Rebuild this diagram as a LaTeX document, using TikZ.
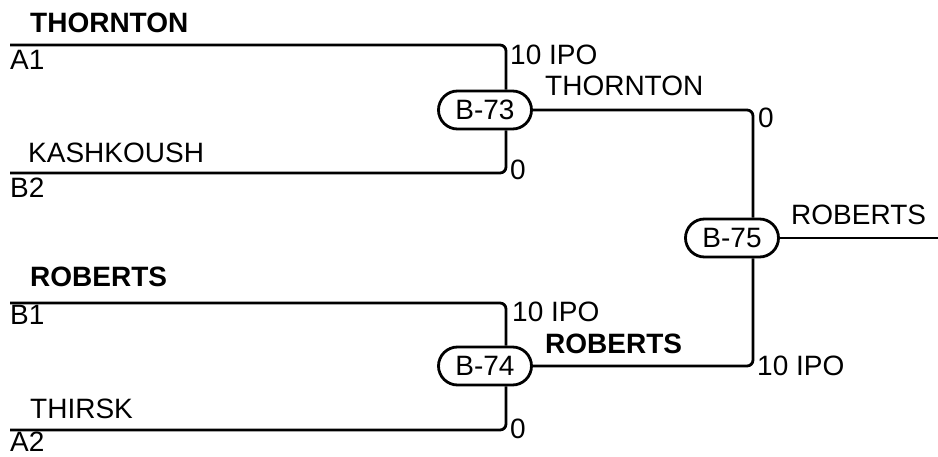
\documentclass[tikz,border=0pt]{standalone}
\usepackage{fontspec}
\setmainfont{Liberation Sans}
\usepackage{tikz}
\usetikzlibrary{positioning}
\usetikzlibrary{shapes.misc}
\tikzstyle{bout} = [rounded rectangle, draw=black, line width=2.8pt, minimum width=93pt, minimum height=38pt, inner sep=0]
\tikzstyle{wire} = [-, line width=2.8pt, rounded corners=6pt]
\tikzstyle{lbl} = [draw=none, inner sep=0, anchor=base west]

\begin{document}
\begin{tikzpicture}[x=1pt, y=-1pt, font=\fontsize{28}{32}\selectfont]
\useasboundingbox (0,0) rectangle (938,457);
% bouts
\node [bout] (B73) at (485, 110) {B-73};
\node [bout] (B74) at (485, 366) {B-74};
\node [bout] (B75) at (732, 238) {B-75};
% free ends
\coordinate (A1) at (10, 45);
\coordinate (B2) at (10, 173);
\coordinate (B1) at (10, 303);
\coordinate (A2) at (10, 430);
\coordinate (W) at (938, 238);
% wires
\draw [wire] (A1) -| ([xshift=21pt]B73.north);
\draw [wire] (B2) -| ([xshift=21pt]B73.south);
\draw [wire] (B1) -| ([xshift=21pt]B74.north);
\draw [wire] (A2) -| ([xshift=21pt]B74.south);
\draw [wire] (B73.east) -| ([xshift=21pt]B75.north);
\draw [wire] (B74.east) -| ([xshift=21pt]B75.south);
\draw [wire] (B75.east) -- (W);
% names and scores
\node [lbl, font=\fontsize{28}{32}\selectfont\bfseries] (nA1) at (30, 33) {THORNTON};
\node [lbl] (tA1) at (10, 70) {A1};
\node [lbl] (nB2) at (28, 163) {KASHKOUSH};
\node [lbl] (tB2) at (10, 198) {B2};
\node [lbl, font=\fontsize{28}{32}\selectfont\bfseries] (nB1) at (30, 287) {ROBERTS};
\node [lbl] (tB1) at (10, 325) {B1};
\node [lbl] (nA2) at (30, 418) {THIRSK};
\node [lbl] (tA2) at (10, 451) {A2};
\node [lbl] (s73a) at (510, 65) {10 IPO};
\node [lbl] (s73b) at (510, 180) {0};
\node [lbl] (w73) at (545, 96) {THORNTON};
\node [lbl] (s74a) at (512, 322) {10 IPO};
\node [lbl] (s74b) at (510, 438) {0};
\node [lbl, font=\fontsize{28}{32}\selectfont\bfseries] (w74) at (545, 353) {ROBERTS};
\node [lbl] (s75a) at (758, 128) {0};
\node [lbl] (s75b) at (757, 375) {10 IPO};
\node [lbl] (w75) at (791, 225) {ROBERTS};
\end{tikzpicture}
\end{document}
